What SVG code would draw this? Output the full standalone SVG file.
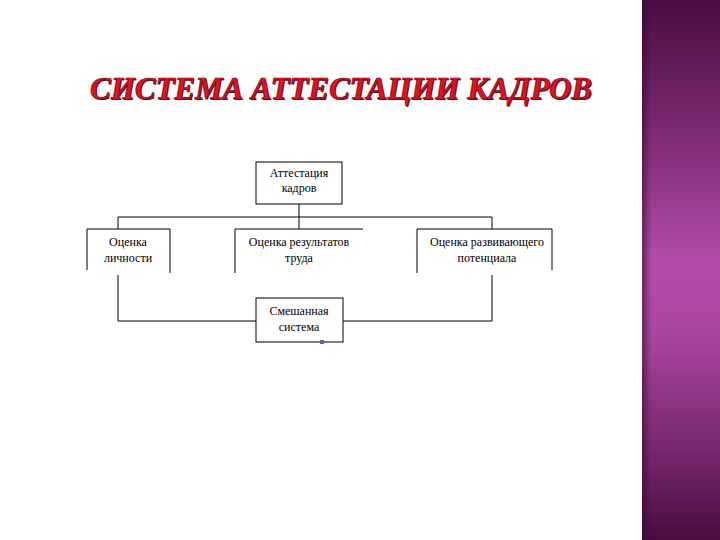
<svg xmlns="http://www.w3.org/2000/svg" width="720" height="540" viewBox="0 0 720 540">
  <defs>
    <linearGradient id="barV" x1="0" y1="0" x2="0" y2="1">
      <stop offset="0" stop-color="#4a0c41"/>
      <stop offset="0.25" stop-color="#7e2c74"/>
      <stop offset="0.48" stop-color="#b24ba8"/>
      <stop offset="0.6" stop-color="#ad47a2"/>
      <stop offset="0.82" stop-color="#7b2a71"/>
      <stop offset="1" stop-color="#4a0c41"/>
    </linearGradient>
    <linearGradient id="barH" x1="0" y1="0" x2="1" y2="0">
      <stop offset="0" stop-color="#3a0834" stop-opacity="0.6"/>
      <stop offset="0.12" stop-color="#3a0834" stop-opacity="0"/>
      <stop offset="1" stop-color="#3a0834" stop-opacity="0"/>
    </linearGradient>
    <style>
      .box { fill: none; stroke: #000; stroke-width: 1; }
      .ln { fill: none; stroke: #000; stroke-width: 1; }
      .lbl { font-family: "Liberation Serif", "Times New Roman", serif; font-size: 12px; fill: #000; text-anchor: middle; }
      .title { font-family: "Liberation Serif", "Times New Roman", serif; font-size: 32px; font-weight: bold; font-style: italic; }
    </style>
  </defs>

  <rect x="0" y="0" width="720" height="540" fill="#ffffff"/>

  <g id="sidebar">
    <rect x="642" y="0" width="78" height="540" fill="url(#barV)"/>
    <rect x="642" y="0" width="78" height="540" fill="url(#barH)"/>
  </g>

  <g id="title">
    <text class="title" x="91" y="100" textLength="502" lengthAdjust="spacingAndGlyphs" fill="#5a0a18">СИСТЕМА АТТЕСТАЦИИ КАДРОВ</text>
    <text class="title" x="90" y="99" textLength="502" lengthAdjust="spacingAndGlyphs" fill="#e0121f" stroke="#7a0a1a" stroke-width="0.7">СИСТЕМА АТТЕСТАЦИИ КАДРОВ</text>
  </g>

  <g id="connectors">
    <polyline class="ln" points="299,204 299,217"/>
    <polyline class="ln" points="118,229 118,217 492,217 492,229"/>
    <polyline class="ln" points="299,217 299,229"/>
    <polyline class="ln" points="118,275 118,321 256,321"/>
    <polyline class="ln" points="343,321 492,321 492,275"/>
  </g>

  <g id="node-attestation">
    <rect class="box" x="256" y="162" width="86" height="42"/>
    <text class="lbl" x="299" y="177">Аттестация</text>
    <text class="lbl" x="299" y="192">кадров</text>
  </g>

  <g id="node-personality">
    <polyline class="box" points="87,270 87,229 170,229 170,273"/>
    <text class="lbl" x="128" y="246">Оценка</text>
    <text class="lbl" x="128" y="262">личности</text>
  </g>

  <g id="node-results">
    <polyline class="box" points="235,273 235,229 363,229"/>
    <text class="lbl" x="299" y="246">Оценка результатов</text>
    <text class="lbl" x="299" y="262">труда</text>
  </g>

  <g id="node-potential">
    <polyline class="box" points="417,273 417,229 552,229 552,270"/>
    <text class="lbl" x="487" y="246">Оценка развивающего</text>
    <text class="lbl" x="487" y="262">потенциала</text>
  </g>

  <g id="node-mixed">
    <rect class="box" x="256" y="298" width="87" height="44"/>
    <text class="lbl" x="299" y="315">Смешанная</text>
    <text class="lbl" x="299" y="331">система</text>
    <rect x="320" y="340" width="4" height="4" fill="#5a6aa8"/>
  </g>
</svg>
